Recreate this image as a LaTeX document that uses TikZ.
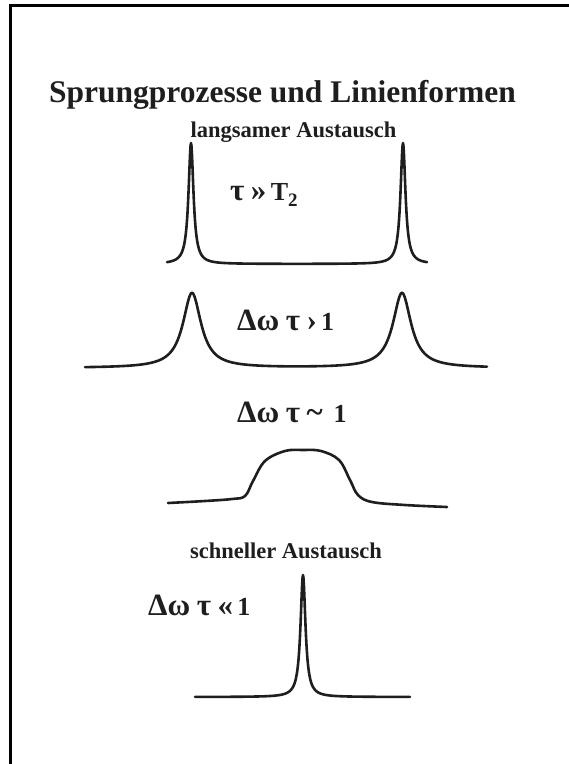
\documentclass[tikz,border=0pt]{standalone}
\usepackage{fontspec}
\setmainfont{Liberation Serif}
\usepackage{tikz}
\usetikzlibrary{positioning}
\definecolor{InkGray}{RGB}{30,30,30}
\newcommand{\grossZeichen}[1]{{\fontsize{31}{31}\selectfont #1}}
\newcommand{\tiefZwei}{\raisebox{-6pt}{\fontsize{19}{19}\selectfont 2}}

\begin{document}
\begin{tikzpicture}[x=1pt,y=-1pt,
		spektrum/.style={line width=2.6pt,InkGray,line join=round,line cap=round},
		ueberschrift/.style={font=\bfseries\fontsize{31.5}{34}\selectfont,text=InkGray,inner sep=0pt,anchor=base},
		regime/.style={font=\bfseries\fontsize{22.5}{25}\selectfont,text=InkGray,inner sep=0pt,anchor=base},
		bedingung/.style={font=\bfseries\fontsize{26}{28}\selectfont,text=InkGray,inner sep=0pt,anchor=base west}]
		\useasboundingbox (0,0) rectangle (569,764);
		
		% Rahmen (nur oben und links sichtbar)
		\draw[line width=2.2pt,black] (10.5,764) -- (10.5,5.5) -- (569,5.5);
		
		% Titel
		\node[ueberschrift] (titel) at (282.5,102) {Sprungprozesse und Linienformen};
		
		% langsamer Austausch (Abstaende in 10 px gerechnet)
		\node[regime] (langsam) at (293.5,137) {langsamer Austausch};
		\node[bedingung] (bedEins) at (230,200) {\grossZeichen{τ} \grossZeichen{»}\,T\tiefZwei};
		\draw[spektrum] plot[domain=167:427,samples=521]
			(\x,{264-121*(0.09/(((\x-191)/10)^2+0.09)+0.09/(((\x-403)/10)^2+0.09))});
		
		% mittlerer Austausch
		\node[bedingung] (bedZwei) at (237,330) {\grossZeichen{Δω} \grossZeichen{τ} \grossZeichen{›}\,1};
		\draw[spektrum] plot[domain=85:487,samples=403]
			(\x,{368-75*(1.21/(((\x-192)/10)^2+1.21)+1.21/(((\x-402)/10)^2+1.21))});
		
		% Koaleszenz
		\node[bedingung] (bedDrei) at (237,422) {\grossZeichen{Δω} \grossZeichen{τ} \grossZeichen{\char"007E}\, 1};
		\draw[spektrum] plot[smooth,tension=0.6] coordinates {
			(168,503) (205,501) (232,499) (245,496) (253,481) (265,461)
			(285,451) (303,450) (321,451) (339,460) (350,480) (358,495)
			(372,502) (405,505) (447,507)};
		
		% schneller Austausch
		\node[regime] (schnell) at (286,558) {schneller Austausch};
		\node[bedingung] (bedVier) at (148,615) {\grossZeichen{Δω} \grossZeichen{τ} \grossZeichen{«}\,1};
		\draw[spektrum] plot[domain=195:410,samples=431]
			(\x,{697-122*(0.09/(((\x-303)/10)^2+0.09))});
	\end{tikzpicture}
\end{document}
